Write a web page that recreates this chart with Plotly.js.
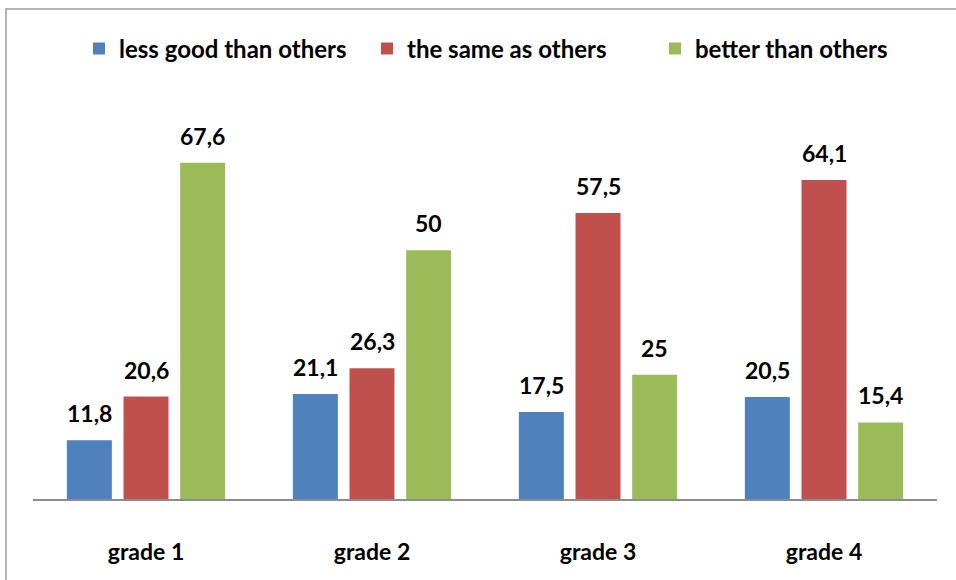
<!DOCTYPE html>
<html>
<head>
<meta charset="utf-8">
<script src="https://cdn.plot.ly/plotly-3.0.1.min.js"></script>
<style>
html,body{margin:0;padding:0;background:#fff;}
#chart{width:956px;height:580px;}
</style>
</head>
<body>
<div id="chart"></div>
<script>
var categories = ["grade 1", "grade 2", "grade 3", "grade 4"];
var seriesNames = ["less good than others", "the same as others", "better than others"];
var lessGood = [11.8, 21.1, 17.5, 20.5];
var sameAs = [20.6, 26.3, 57.5, 64.1];
var better = [67.6, 50, 25, 15.4];
var colors = ["#4F81BD", "#C0504D", "#9BBB59"];

var W = 956, H = 580;
var mL = 33, mR = 19, mT = 101, mB = 81;
var plotW = W - mL - mR, plotH = H - mT - mB;
var bargap = 0.248, bargroupgap = 0.206;
var FONT = "Lato, 'Open Sans', sans-serif";
var LABEL_SIZE = 23, LEGEND_SIZE = 24;

var allSeries = [lessGood, sameAs, better];
var traces = allSeries.map(function (vals, i) {
  return {
    type: "bar",
    name: seriesNames[i],
    x: categories,
    y: vals,
    marker: {color: colors[i], line: {width: 0}},
    hoverinfo: "none"
  };
});

// data labels: placed above bars via annotations
var catPx = plotW / categories.length;
var slotPx = catPx * (1 - bargap) / allSeries.length;
var annotations = [];
allSeries.forEach(function (vals, i) {
  vals.forEach(function (v, j) {
    annotations.push({
      x: categories[j], y: v, xref: "x", yref: "y",
      text: String(v).replace(".", ","),
      showarrow: false,
      xshift: (i - 1) * slotPx,
      yshift: 27,
      yanchor: "middle",
      font: {family: FONT, size: LABEL_SIZE, color: "#000", weight: "bold"}
    });
  });
});

var layout = {
  width: W, height: H,
  margin: {l: mL, r: mR, t: mT, b: mB, pad: 0},
  paper_bgcolor: "#fff",
  plot_bgcolor: "#fff",
  barmode: "group",
  bargap: bargap,
  bargroupgap: bargroupgap,
  separators: ",.",
  showlegend: true,
  legend: {
    orientation: "h",
    x: (511 - mL) / plotW, xanchor: "center",
    y: (H - mB - 49) / plotH, yanchor: "middle",
    font: {family: FONT, size: LEGEND_SIZE, color: "#000", weight: "bold"},
    traceorder: "normal",
    itemwidth: 30,
    entrywidth: 243,
    entrywidthmode: "pixels"
  },
  xaxis: {
    type: "category",
    showline: true, linecolor: "#8c8c8c", linewidth: 2,
    showgrid: false, zeroline: false,
    ticks: "", ticklabelstandoff: 31,
    tickfont: {family: FONT, size: LABEL_SIZE, color: "#000", weight: "bold"},
    fixedrange: true
  },
  yaxis: {
    range: [0, 80],
    visible: false,
    showgrid: false, zeroline: false,
    fixedrange: true
  },
  annotations: annotations,
  shapes: [{
    type: "rect", xref: "paper", yref: "paper",
    x0: (6 - mL) / plotW, x1: (W + 10 - mL) / plotW,
    y0: -(H + 10 - (H - mB)) / plotH, y1: (H - mB - 9) / plotH,
    line: {color: "#9a9a9a", width: 1.5},
    fillcolor: "rgba(0,0,0,0)",
    layer: "below"
  }]
};

Plotly.newPlot("chart", traces, layout, {displayModeBar: false, staticPlot: true});
</script>
</body>
</html>
